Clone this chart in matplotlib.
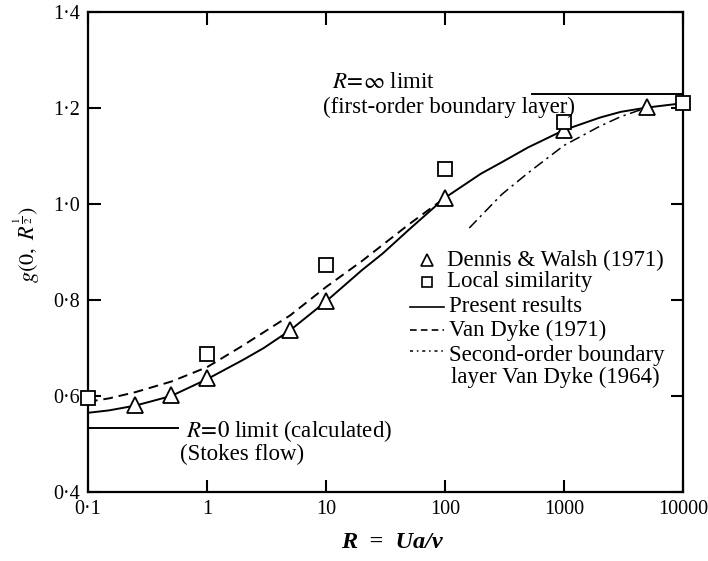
import matplotlib
matplotlib.use("Agg")
import matplotlib.pyplot as plt
from matplotlib.lines import Line2D

plt.rcParams['font.family'] = ['Liberation Serif', 'DejaVu Serif']
plt.rcParams['mathtext.fontset'] = 'stix'

# ---- data ----
present_R = [0.1, 0.15, 0.25, 0.5, 1, 2, 3, 5, 10, 20, 30, 50, 100, 200, 300, 500, 1000, 2000, 3000, 5000, 10000]
present_g = [0.565, 0.570, 0.580, 0.600, 0.635, 0.675, 0.700, 0.737, 0.797, 0.862, 0.897, 0.947, 1.013, 1.063, 1.087, 1.118, 1.154, 1.180, 1.192, 1.201, 1.210]

vandyke71_R = [0.1, 0.15, 0.25, 0.5, 1, 2, 5, 10, 20, 50, 100]
vandyke71_g = [0.588, 0.595, 0.608, 0.630, 0.660, 0.705, 0.768, 0.827, 0.881, 0.958, 1.013]

second_R = [160, 200, 300, 500, 1000, 2000, 3000, 5000]
second_g = [0.950, 0.975, 1.020, 1.065, 1.122, 1.162, 1.182, 1.201]

dw_R = [0.25, 0.5, 1, 5, 10, 100, 1000, 5000]
dw_g = [0.581, 0.602, 0.637, 0.737, 0.797, 1.013, 1.154, 1.202]

ls_R = [0.1, 1, 10, 100, 1000, 10000]
ls_g = [0.595, 0.687, 0.873, 1.072, 1.170, 1.210]

r0_limit_R = [0.1, 0.57]
r0_limit_g = [0.533, 0.533]
rinf_limit_R = [540, 10000]
rinf_limit_g = [1.229, 1.229]

xticks = [0.1, 1, 10, 100, 1000, 10000]
xticklabels = ['0·1', '1', '10', '100', '1000', '10000']
yticks = [0.4, 0.6, 0.8, 1.0, 1.2, 1.4]
yticklabels = ['0·4', '0·6', '0·8', '1·0', '1·2', '1·4']

W, H = 708, 561
fig = plt.figure(figsize=(W / 100, H / 100), dpi=100)
ax = fig.add_axes([88 / W, 1 - 492 / H, (683 - 88) / W, (492 - 12) / H])

def fx(px):
    return px / W

def fy(py):
    return 1 - py / H

lw = 1.4
ax.plot(present_R, present_g, '-', color='black', lw=lw)
ax.plot(vandyke71_R, vandyke71_g, color='black', lw=lw, dashes=(5, 3))
ax.plot(second_R, second_g, color='black', lw=1.1, dashes=(7, 3, 1.5, 3))
ax.plot(r0_limit_R, r0_limit_g, '-', color='black', lw=lw)
ax.plot(rinf_limit_R, rinf_limit_g, '-', color='black', lw=lw)
ax.plot(dw_R, dw_g, '^', ms=11.5, mfc='white', mec='black', mew=1.3, clip_on=False, zorder=5)
ax.plot(ls_R, ls_g, 's', ms=9.5, mfc='white', mec='black', mew=1.3, clip_on=False, zorder=5)

ax.set_xscale('log')
ax.set_xlim(0.1, 10000)
ax.set_ylim(0.4, 1.4)
ax.set_xticks(xticks)
ax.set_xticklabels(xticklabels)
ax.set_yticks(yticks)
ax.set_yticklabels(yticklabels)
ax.minorticks_off()
ax.tick_params(direction='in', top=True, right=True, length=9, width=1.5,
               labelsize=14.5, pad=6)
for s in ax.spines.values():
    s.set_linewidth(1.6)

# axis labels
fig.text(fx(392), fy(543), 'R  =  Ua/ν', ha='center', va='center', fontsize=17.5,
         style='italic', weight='bold')
fig.text(fx(27), fy(245), r'$g(0,\ R^{\frac{1}{2}})$', ha='center', va='center',
         rotation=90, fontsize=16)

# annotations
fs = 16.5
fig.text(fx(332), fy(83), r'$R\!=\!\infty$ limit', ha='left', va='center', fontsize=fs)
fig.text(fx(323), fy(107), '(first-order boundary layer)', ha='left', va='center', fontsize=fs)
fig.text(fx(186), fy(431), r'$R\!=\!0$ limit (calculated)', ha='left', va='center', fontsize=fs)
fig.text(fx(180), fy(454), '(Stokes flow)', ha='left', va='center', fontsize=fs)

# legend (manual)
leg_rows = [260, 282, 307, 330, 355, 377]
leg_labels = ['Dennis & Walsh (1971)', 'Local similarity', 'Present results',
              'Van Dyke (1971)', 'Second-order boundary', 'layer Van Dyke (1964)']
leg_x = [447, 447, 449, 449, 449, 451]
for y, lab, x in zip(leg_rows, leg_labels, leg_x):
    fig.text(fx(x), fy(y), lab, ha='left', va='center', fontsize=fs)

fig.add_artist(Line2D([fx(427)], [fy(260)], marker='^', ms=8, mfc='white', mec='black', mew=1.2,
                      transform=fig.transFigure))
fig.add_artist(Line2D([fx(427)], [fy(282)], marker='s', ms=7, mfc='white', mec='black', mew=1.2,
                      transform=fig.transFigure))
fig.add_artist(Line2D([fx(410), fx(444)], [fy(307), fy(307)], color='black', lw=1.2,
                      transform=fig.transFigure))
fig.add_artist(Line2D([fx(410), fx(444)], [fy(330), fy(330)], color='black', lw=1.2,
                      dashes=(4, 2.5), transform=fig.transFigure))
fig.add_artist(Line2D([fx(410), fx(444)], [fy(351), fy(351)], color='black', lw=1.1,
                      dashes=(2, 2.5, 1, 2.5), transform=fig.transFigure))

fig.savefig('out.png', dpi=100, facecolor='white')
